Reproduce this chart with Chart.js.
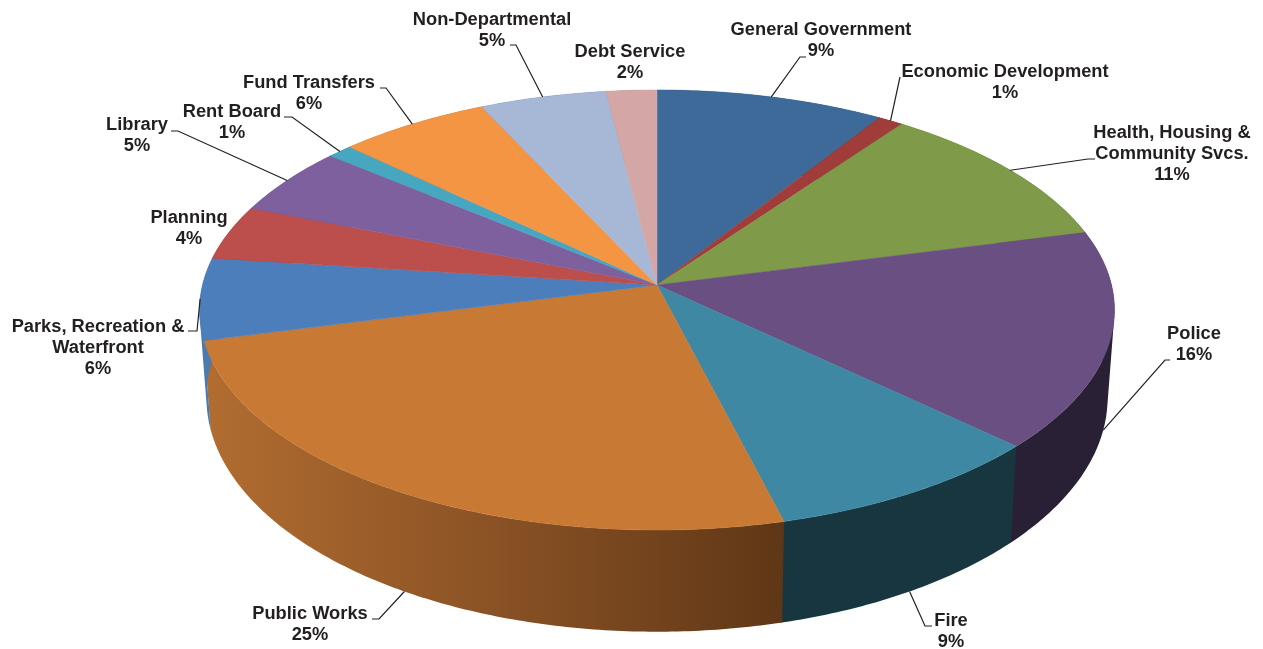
<!DOCTYPE html>
<html>
<head>
<meta charset="utf-8">
<title>Expenditures by Department</title>
<script src="https://cdn.jsdelivr.net/npm/chart.js@4"></script>
<style>
    html, body { margin: 0; padding: 0; background: #ffffff; }
    canvas { display: block; }
</style>
</head>
<body>
<canvas id="budget-pie" width="1263" height="649"></canvas>
<script>
const categories = [
    ["General Government"],
    ["Economic Development"],
    ["Health, Housing &", "Community Svcs."],
    ["Police"],
    ["Fire"],
    ["Public Works"],
    ["Parks, Recreation &", "Waterfront"],
    ["Planning"],
    ["Library"],
    ["Rent Board"],
    ["Fund Transfers"],
    ["Non-Departmental"],
    ["Debt Service"],
];
const percentShares = [9, 1, 11, 16, 9, 25, 6, 4, 5, 1, 6, 5, 2];

const sliceColors = [
    "#3e6a9a", "#a03d3a", "#7f9a48", "#6a4f82", "#3e88a3", "#c87934", "#4c7ebb",
    "#bc4e4b", "#7f609e", "#47a7c1", "#f39543", "#a7b7d6", "#d4a6a5",
];
// Shades for the side wall, left to right
const wallColors = [
    ["#253f5c"], ["#602523"], ["#4c5c2b"], ["#2a2035"], ["#18363f"],
    ["#b26d30", "#8a5225", "#5f3716"], ["#4a7ab0"],
    ["#702f2d"], ["#4c3a5f"], ["#2b6474"], ["#925928"], ["#646e80"], ["#7f6463"],
];

// Where each caption sits and how its leader line bends on the way to the slice
const captionLayout = [
    { x: 821, y: 30, hook: [[806, 57], [800, 57]], end: "rim" },
    { x: 1005, y: 72, hook: [[900, 77]], end: "rim" },
    { x: 1172, y: 133, hook: [[1095, 159], [1088, 159]], end: "rim" },
    { x: 1194, y: 334, hook: [[1170, 360], [1165, 360]], end: "base" },
    { x: 951, y: 621, hook: [[932, 626], [925, 626]], end: "base" },
    { x: 310, y: 614, hook: [[372, 619], [379, 619]], end: "base" },
    { x: 98, y: 327, hook: [[188, 331], [197, 331]], end: "rim" },
    { x: 189, y: 218 },
    { x: 137, y: 125, hook: [[171, 131], [178, 131]], end: "rim" },
    { x: 232, y: 112, hook: [[284, 117], [292, 117]], end: "rim" },
    { x: 309, y: 83, hook: [[380, 88], [386, 88]], end: "rim" },
    { x: 492, y: 20, hook: [[510, 45], [516, 45]], end: "rim" },
    { x: 630, y: 52 },
];

// Tilted disc: apex position, radii and perspective strength
const APEX_X = 657;
const APEX_Y = 285;
const RADIUS_X = 454.5;
const RADIUS_Y = 217.2;
const TILT = 0.1136;
// The underside is seen a little narrower and a little more open
const BASE_DROP = 86;
const BASE_SCALE_X = 0.985;
const BASE_SCALE_Y = 1.064;
// Neighbouring walls overlap by this many radians so no white seam shows
const WALL_OVERLAP = 0.004;

const INK = "#231f20";
const LINE_HEIGHT = 21;

function rimPoint(angle) {
    const w = 1 - TILT * Math.sin(angle);
    return [APEX_X + RADIUS_X * Math.cos(angle) / w, APEX_Y + RADIUS_Y * Math.sin(angle) / w];
}

function basePoint(angle) {
    const w = 1 - TILT * Math.sin(angle);
    return [
        APEX_X + BASE_SCALE_X * RADIUS_X * Math.cos(angle) / w,
        APEX_Y + BASE_DROP + BASE_SCALE_Y * RADIUS_Y * Math.sin(angle) / w,
    ];
}

function stepsFor(from, to) {
    return Math.max(4, Math.ceil(Math.abs(to - from) * 90));
}

function signedArea(points) {
    let area = 0;
    points.forEach((p, i) => {
        const q = points[(i + 1) % points.length];
        area += p[0] * q[1] - q[0] * p[1];
    });
    return area;
}

function wallFill(ctx, index, from, to) {
    const shades = wallColors[index];
    if (shades.length === 1) return shades[0];
    // Only the front part of a wall shows, so the shading runs across that stretch
    const a = rimPoint(Math.max(from, 0));
    const b = rimPoint(Math.min(to, Math.PI));
    const gradient = ctx.createLinearGradient(Math.min(a[0], b[0]), 0, Math.max(a[0], b[0]), 0);
    shades.forEach((shade, i) => gradient.addColorStop(i / (shades.length - 1), shade));
    return gradient;
}

// One path of small quads, so the outline follows the tangent between rim and base.
// Every quad gets the same winding, otherwise overlaps cancel out near the tangent.
function drawWall(ctx, arc, index) {
    const from = arc.startAngle;
    const to = arc.endAngle + WALL_OVERLAP;
    const steps = stepsFor(from, to);
    ctx.beginPath();
    for (let i = 0; i < steps; i++) {
        const a = from + (to - from) * i / steps;
        const b = from + (to - from) * (i + 1) / steps;
        const corners = [rimPoint(a), rimPoint(b), basePoint(b), basePoint(a)];
        if (signedArea(corners) < 0) corners.reverse();
        ctx.moveTo(corners[0][0], corners[0][1]);
        corners.slice(1).forEach((p) => ctx.lineTo(p[0], p[1]));
        ctx.closePath();
    }
    ctx.fillStyle = wallFill(ctx, index, arc.startAngle, arc.endAngle);
    ctx.fill();
}

function drawSlice(ctx, arc, index) {
    const steps = stepsFor(arc.startAngle, arc.endAngle);
    const span = arc.endAngle - arc.startAngle;
    ctx.beginPath();
    ctx.moveTo(APEX_X, APEX_Y);
    for (let i = 0; i <= steps; i++) {
        const p = rimPoint(arc.startAngle + span * i / steps);
        ctx.lineTo(p[0], p[1]);
    }
    ctx.closePath();
    ctx.fillStyle = sliceColors[index];
    ctx.strokeStyle = sliceColors[index];
    ctx.lineWidth = 0.5;
    ctx.fill();
    ctx.stroke();
}

// Replaces the flat arcs with the tilted disc, using the angles Chart.js worked out
const tiltedPie = {
    id: "tiltedPie",
    beforeDatasetDraw(chart, args) {
        const ctx = chart.ctx;
        const arcs = args.meta.data;
        arcs.forEach((arc, i) => drawWall(ctx, arc, i));
        arcs.forEach((arc, i) => drawSlice(ctx, arc, i));
        return false;
    },
    afterDatasetsDraw(chart) {
        const ctx = chart.ctx;
        const arcs = chart.getDatasetMeta(0).data;

        ctx.save();
        ctx.strokeStyle = INK;
        ctx.lineWidth = 1.2;
        arcs.forEach((arc, i) => {
            const layout = captionLayout[i];
            if (!layout.hook) return;
            const mid = (arc.startAngle + arc.endAngle) / 2;
            const tip = layout.end === "base" ? basePoint(mid) : rimPoint(mid);
            ctx.beginPath();
            layout.hook.forEach((p) => ctx.lineTo(p[0], p[1]));
            ctx.lineTo(tip[0], tip[1]);
            ctx.stroke();
        });

        ctx.fillStyle = INK;
        ctx.font = "bold 18.3px 'Liberation Sans', Arial, sans-serif";
        ctx.textAlign = "center";
        ctx.textBaseline = "middle";
        chart.data.labels.forEach((label, i) => {
            const layout = captionLayout[i];
            const lines = label.concat(percentShares[i] + "%");
            lines.forEach((line, n) => ctx.fillText(line, layout.x, layout.y + n * LINE_HEIGHT));
        });
        ctx.restore();
    },
};

document.addEventListener("DOMContentLoaded", () => {
    new Chart(document.getElementById("budget-pie").getContext("2d"), {
        type: "pie",
        data: {
            labels: categories,
            datasets: [
                {
                    data: percentShares,
                    backgroundColor: sliceColors,
                    borderWidth: 0,
                },
            ],
        },
        options: {
            responsive: false,
            animation: false,
            plugins: {
                legend: { display: false },
                tooltip: { enabled: false },
            },
        },
        plugins: [tiltedPie],
    });
});
</script>
</body>
</html>
